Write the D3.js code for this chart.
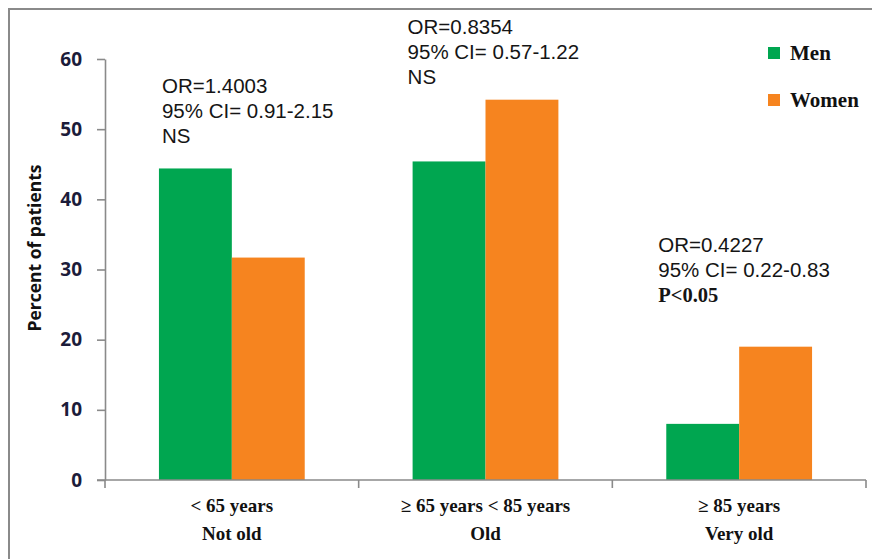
<!DOCTYPE html>
<html>
<head>
<meta charset="utf-8">
<script src="https://cdn.jsdelivr.net/npm/d3@7"></script>
<style>
  body { margin: 0; background: #fff; }
  svg { display: block; }
  .tick-label { font-family: "Open Sans", sans-serif; font-weight: 700; font-size: 19px; fill: #1c1c3a; }
  .y-title { font-family: "Open Sans", sans-serif; font-weight: 700; font-size: 17.5px; fill: #111; }
  .x-label { font-family: "Liberation Serif", serif; font-weight: 700; font-size: 19px; fill: #111; }
  .legend-label { font-family: "Liberation Serif", serif; font-weight: 700; font-size: 21px; fill: #111; }
  .annot { font-family: "Liberation Sans", Arial, sans-serif; font-size: 20.5px; fill: #151515; }
  .annot.sig { font-family: "Liberation Serif", serif; font-weight: 700; }
</style>
</head>
<body>
<div id="chart"></div>
<script>

// data
var categories = ["< 65 years", "\u2265 65 years < 85 years", "\u2265 85 years"];
var categoryNames = ["Not old", "Old", "Very old"];
var series = ["Men", "Women"];
var menValues = [44.4, 45.4, 8.0];
var womenValues = [31.7, 54.2, 19.0];
var yTicks = [0, 10, 20, 30, 40, 50, 60];
var annotations = [
  ["OR=1.4003", "95% CI= 0.91-2.15", "NS"],
  ["OR=0.8354", "95% CI= 0.57-1.22", "NS"],
  ["OR=0.4227", "95% CI= 0.22-0.83", "P<0.05"]
];

var colors = { Men: "#00a650", Women: "#f6841f" };

var width = 872, height = 559;
var svg = d3.select("#chart").append("svg")
  .attr("width", width)
  .attr("height", height);

// frame (only left and top edges visible in the picture)
svg.append("path")
  .attr("d", "M9,559 V9 H872")
  .attr("fill", "none")
  .attr("stroke", "#8a8a8a")
  .attr("stroke-width", 2);

var plot = { left: 105, right: 866, top: 59, bottom: 480 };

var x0 = d3.scaleBand()
  .domain(categories)
  .range([plot.left, plot.right])
  .paddingInner(0)
  .paddingOuter(0);

var x1 = d3.scaleBand()
  .domain(series)
  .range([0, x0.bandwidth()])
  .paddingInner(0)
  .paddingOuter(0.74);

var y = d3.scaleLinear()
  .domain([0, 60])
  .range([plot.bottom, plot.top]);

// bars
var rows = categories.map(function(c, i) {
  return { cat: c, values: [
    { key: "Men", value: menValues[i] },
    { key: "Women", value: womenValues[i] }
  ]};
});

var groups = svg.selectAll(".group")
  .data(rows)
  .enter()
  .append("g")
  .attr("class", "group")
  .attr("transform", function(d) { return "translate(" + x0(d.cat) + ",0)"; });

groups.selectAll("rect")
  .data(function(d) { return d.values; })
  .enter()
  .append("rect")
  .attr("x", function(d) { return x1(d.key); })
  .attr("y", function(d) { return y(d.value); })
  .attr("width", x1.bandwidth())
  .attr("height", function(d) { return y(0) - y(d.value); })
  .attr("fill", function(d) { return colors[d.key]; });

// y axis
var yAxis = svg.append("g")
  .attr("transform", "translate(" + plot.left + ",0)")
  .call(d3.axisLeft(y).tickValues(yTicks).tickSize(8).tickSizeOuter(0).tickPadding(15));
yAxis.select(".domain").attr("stroke", "#8a8a8a").attr("stroke-width", 1.6);
yAxis.selectAll(".tick line").attr("stroke", "#8a8a8a").attr("stroke-width", 1.6);
yAxis.selectAll(".tick text").attr("class", "tick-label").attr("font-family", null).attr("font-size", null).attr("fill", null);

// x axis: line with ticks at band edges
var xAxis = svg.append("g");
xAxis.append("line")
  .attr("x1", plot.left - 8).attr("x2", plot.right)
  .attr("y1", y(0)).attr("y2", y(0))
  .attr("stroke", "#8a8a8a").attr("stroke-width", 1.6);
var edges = categories.map(function(c) { return x0(c); }).concat([plot.right]);
xAxis.selectAll(".xtick")
  .data(edges)
  .enter()
  .append("line")
  .attr("x1", function(d) { return d; }).attr("x2", function(d) { return d; })
  .attr("y1", y(0)).attr("y2", y(0) + 8)
  .attr("stroke", "#8a8a8a").attr("stroke-width", 1.6);

var xl = svg.selectAll(".x-label")
  .data(categories)
  .enter()
  .append("text")
  .attr("class", "x-label")
  .attr("text-anchor", "middle")
  .attr("x", function(d) { return x0(d) + x0.bandwidth() / 2; })
  .attr("y", 512);
xl.append("tspan").text(function(d) { return d; });
xl.append("tspan")
  .attr("x", function(d) { return x0(d) + x0.bandwidth() / 2; })
  .attr("dy", 28)
  .text(function(d, i) { return categoryNames[i]; });

// y title
svg.append("text")
  .attr("class", "y-title")
  .attr("text-anchor", "middle")
  .attr("transform", "translate(41,248) rotate(-90)")
  .text("Percent of patients");

// annotations
var annotTop = [93, 34, 252];
var annotDx = [3, -5, -8];
annotations.forEach(function(lines, i) {
  var ax = x0(categories[i]) + x1("Men") + annotDx[i];
  lines.forEach(function(t, j) {
    svg.append("text")
      .attr("class", t.indexOf("P<") === 0 ? "annot sig" : "annot")
      .attr("x", ax)
      .attr("y", annotTop[i] + j * 25)
      .text(t);
  });
});

// legend
var legend = svg.selectAll(".legend")
  .data(series)
  .enter()
  .append("g")
  .attr("class", "legend")
  .attr("transform", function(d, i) { return "translate(768," + (47 + i * 47) + ")"; });
legend.append("rect")
  .attr("width", 12).attr("height", 12)
  .attr("fill", function(d) { return colors[d]; });
legend.append("text")
  .attr("class", "legend-label")
  .attr("x", 22)
  .attr("y", 13)
  .text(function(d) { return d; });

</script>
</body>
</html>
